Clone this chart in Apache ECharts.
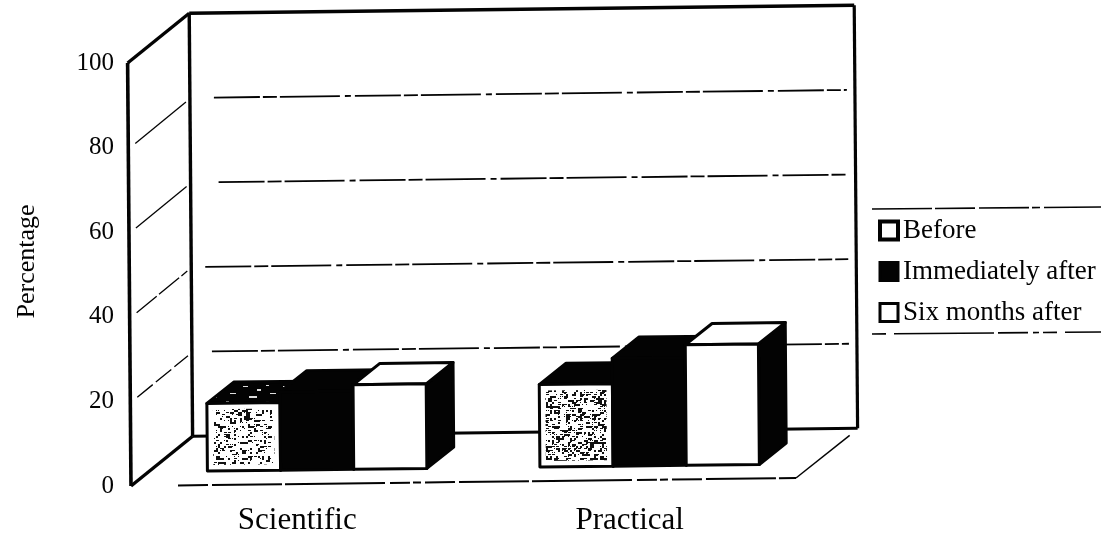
<!DOCTYPE html>
<html>
<head>
<meta charset="utf-8">
<style>html,body{margin:0;padding:0;background:#fff}#c{width:1101px;height:538px}</style>
<script src="https://cdn.jsdelivr.net/npm/echarts@6/dist/echarts.min.js"></script>
</head>
<body>
<div id="c"></div>
<script>
var categories = ['Scientific', 'Practical'];
var before = [16, 19.5];
var immediatelyAfter = [18.5, 25.5];
var sixMonthsAfter = [20, 28.5];
var gridTicks = [20, 40, 60, 80];

var WALL = [62, -49], B0 = [20, -14], B1 = [47, -35];
var TILT_Y = 0.012, SHEAR_X = 0.008;
var INK = '#030303';

function speckle(limit) {
  var cv = document.createElement('canvas');
  cv.width = 96; cv.height = 96;
  var c = cv.getContext('2d');
  c.fillStyle = '#fff'; c.fillRect(0, 0, 96, 96);
  c.fillStyle = '#111';
  for (var y = 0; y < 96; y += 2) {
    for (var x = 0; x < 96; x += 2) {
      var h = ((x * 73) ^ (y * 151) ^ (x * y * 7)) % 23;
      if (h < limit) c.fillRect(x, y, 1 + h % 4, 1 + h % 2);
    }
  }
  return { image: cv, repeat: 'repeat' };
}
var sparse = speckle(6), dense = speckle(10);
var topSpeck = (function () {
  var cv = document.createElement('canvas');
  cv.width = 40; cv.height = 16;
  var c = cv.getContext('2d');
  c.fillStyle = INK; c.fillRect(0, 0, 40, 16);
  c.fillStyle = '#ddd';
  c.fillRect(3, 2, 5, 1); c.fillRect(17, 5, 4, 2); c.fillRect(30, 9, 6, 1); c.fillRect(9, 12, 8, 2); c.fillRect(26, 1, 3, 1);
  return { image: cv, repeat: 'repeat' };
})();

function tilter(cs) {
  var x0 = cs.x, y0 = cs.y + cs.height;
  return function (x, y) {
    return [x + (y - y0) * SHEAR_X, y - (x - x0) * TILT_Y];
  };
}
function poly(T, pts, fill, stroke, lw) {
  return {
    type: 'polygon',
    shape: { points: pts.map(function (p) { return T(p[0], p[1]); }) },
    style: { fill: fill, stroke: stroke || INK, lineWidth: lw == null ? 3 : lw, lineJoin: 'round' }
  };
}
function seg(T, a, b, lw, dash) {
  var p = T(a[0], a[1]), q = T(b[0], b[1]);
  return {
    type: 'line',
    shape: { x1: p[0], y1: p[1], x2: q[0], y2: q[1] },
    style: { stroke: INK, lineWidth: lw, lineDash: dash || null, fill: null }
  };
}

function renderWalls(params, api) {
  var cs = params.coordSys, T = tilter(cs);
  var L = cs.x, R = cs.x + cs.width, Y0 = cs.y + cs.height, Yt = cs.y;
  var dx = WALL[0], dy = WALL[1], kids = [];
  gridTicks.forEach(function (v, i) {
    var y = api.coord([0, v])[1];
    var insetB = [20, 14, 28, 24][i];
    kids.push(seg(T, [L + dx + insetB, y + dy], [R + dx - 8, y + dy], 1.8, [46, 3, 14, 3, 60, 5, 6, 4]));
    kids.push(seg(T, [L + 7, y - 4], [L + dx - 4, y + dy + 4], 1.3, i === 0 ? [20, 4] : (i === 1 ? [26, 3] : null)));
  });
  kids.push(seg(T, [L, Yt], [L, Y0], 3.6));
  kids.push(seg(T, [L, Yt], [L + dx, Yt + dy], 3.4));
  kids.push(seg(T, [L + dx, Yt + dy], [L + dx, Y0 + dy], 3.4));
  kids.push(seg(T, [L + dx, Yt + dy], [R + dx, Yt + dy], 3.4));
  kids.push(seg(T, [R + dx, Yt + dy], [R + dx, Y0 + dy], 3.2));
  kids.push(seg(T, [L, Y0], [L + dx, Y0 + dy], 3.4));
  kids.push(seg(T, [L + dx, Y0 + dy], [R + dx, Y0 + dy], 3));
  kids.push(seg(T, [L + 47, Y0], [R, Y0], 2, [30, 4, 70, 3, 100, 5, 20, 3, 8, 4]));
  kids.push(seg(T, [R, Y0], [R + dx - 8, Y0 + dy + 7], 1.5));
  return { type: 'group', children: kids };
}

function barRenderer(slot) {
  return function (params, api) {
    var cs = params.coordSys, T = tilter(cs);
    var cat = api.value(0), val = api.value(1);
    var top = api.coord([cat, val]), base = api.coord([cat, 0]);
    var w = api.size([1, 0])[0] * 0.22;
    var x1 = top[0] + (slot - 2.5) * w + B0[0], x2 = x1 + w;
    var yb = base[1] + B0[1], yt = top[1] + B0[1];
    var ax = B1[0] - B0[0], ay = B1[1] - B0[1];
    var front = slot === 1 ? '#fff' : (slot === 2 ? INK : '#fff');
    var topFill = slot === 3 ? '#fff' : INK;
    if (slot === 1 && cat === 0) topFill = topSpeck;
    var kids = [
      poly(T, [[x2, yb], [x2 + ax, yb + ay], [x2 + ax, yt + ay], [x2, yt]], INK),
      poly(T, [[x1, yt], [x1 + ax, yt + ay], [x2 + ax, yt + ay], [x2, yt]], topFill),
      poly(T, [[x1, yb], [x2, yb], [x2, yt], [x1, yt]], front)
    ];
    if (slot === 1) {
      var m = 6;
      kids.push({
        type: 'polygon',
        shape: { points: [[x1 + m, yb - m], [x2 - m, yb - m], [x2 - m, yt + m], [x1 + m, yt + m]].map(function (p) { return T(p[0], p[1]); }) },
        style: { fill: cat === 0 ? sparse : dense }
      });
    }
    return { type: 'group', children: kids };
  };
}
function barData(arr) {
  return arr.map(function (v, i) { return [i, v]; });
}

var chart = echarts.init(document.getElementById('c'), null, { renderer: 'canvas' });
chart.setOption({
  animation: false,
  backgroundColor: '#fff',
  grid: { left: 131, top: 63, width: 665, height: 423, outerBoundsMode: 'none', containLabel: false },
  legend: {
    orient: 'vertical', left: 873, top: 212, itemWidth: 18, itemHeight: 18, itemGap: 14,
    textStyle: { fontFamily: 'Liberation Serif', fontSize: 27, color: INK },
    selectedMode: false,
    data: [
      { name: 'Before', icon: 'rect', itemStyle: { color: '#fff', borderColor: INK, borderWidth: 4 } },
      { name: 'Immediately after', icon: 'rect', itemStyle: { color: INK, borderColor: INK, borderWidth: 3 } },
      { name: 'Six months after', icon: 'rect', itemStyle: { color: '#fff', borderColor: INK, borderWidth: 3 } }
    ]
  },
  xAxis: {
    type: 'category', data: categories,
    axisLine: { show: false }, axisTick: { show: false }, splitLine: { show: false },
    axisLabel: { fontFamily: 'Liberation Serif', fontSize: 31, color: INK, margin: 19 }
  },
  yAxis: {
    type: 'value', min: 0, max: 100, interval: 20,
    name: 'Percentage', nameLocation: 'middle', nameGap: 91,
    nameTextStyle: { fontFamily: 'Liberation Serif', fontSize: 26, color: INK, padding: [0, 0, 0, 26] },
    axisLine: { show: false }, axisTick: { show: false }, splitLine: { show: false },
    axisLabel: { fontFamily: 'Liberation Serif', fontSize: 25, color: INK, margin: 17, padding: [0, 0, 14, 0] }
  },
  graphic: [
    { type: 'line', shape: { x1: 872, y1: 209, x2: 1101, y2: 207 }, style: { stroke: INK, lineWidth: 1.6, lineDash: [60, 3, 40, 4, 50, 3, 8, 4] } },
    { type: 'line', shape: { x1: 872, y1: 334, x2: 1101, y2: 332 }, style: { stroke: INK, lineWidth: 1.6, lineDash: [14, 8, 100, 4, 30, 5, 6, 4] } }
  ],
  series: [
    { name: 'walls', type: 'custom', renderItem: renderWalls, data: [[0, 0]], silent: true, clip: false },
    { name: 'Before', type: 'custom', renderItem: barRenderer(1), data: barData(before), clip: false, encode: { x: 0, y: 1 } },
    { name: 'Immediately after', type: 'custom', renderItem: barRenderer(2), data: barData(immediatelyAfter), clip: false, encode: { x: 0, y: 1 } },
    { name: 'Six months after', type: 'custom', renderItem: barRenderer(3), data: barData(sixMonthsAfter), clip: false, encode: { x: 0, y: 1 } }
  ]
});
</script>
</body>
</html>
